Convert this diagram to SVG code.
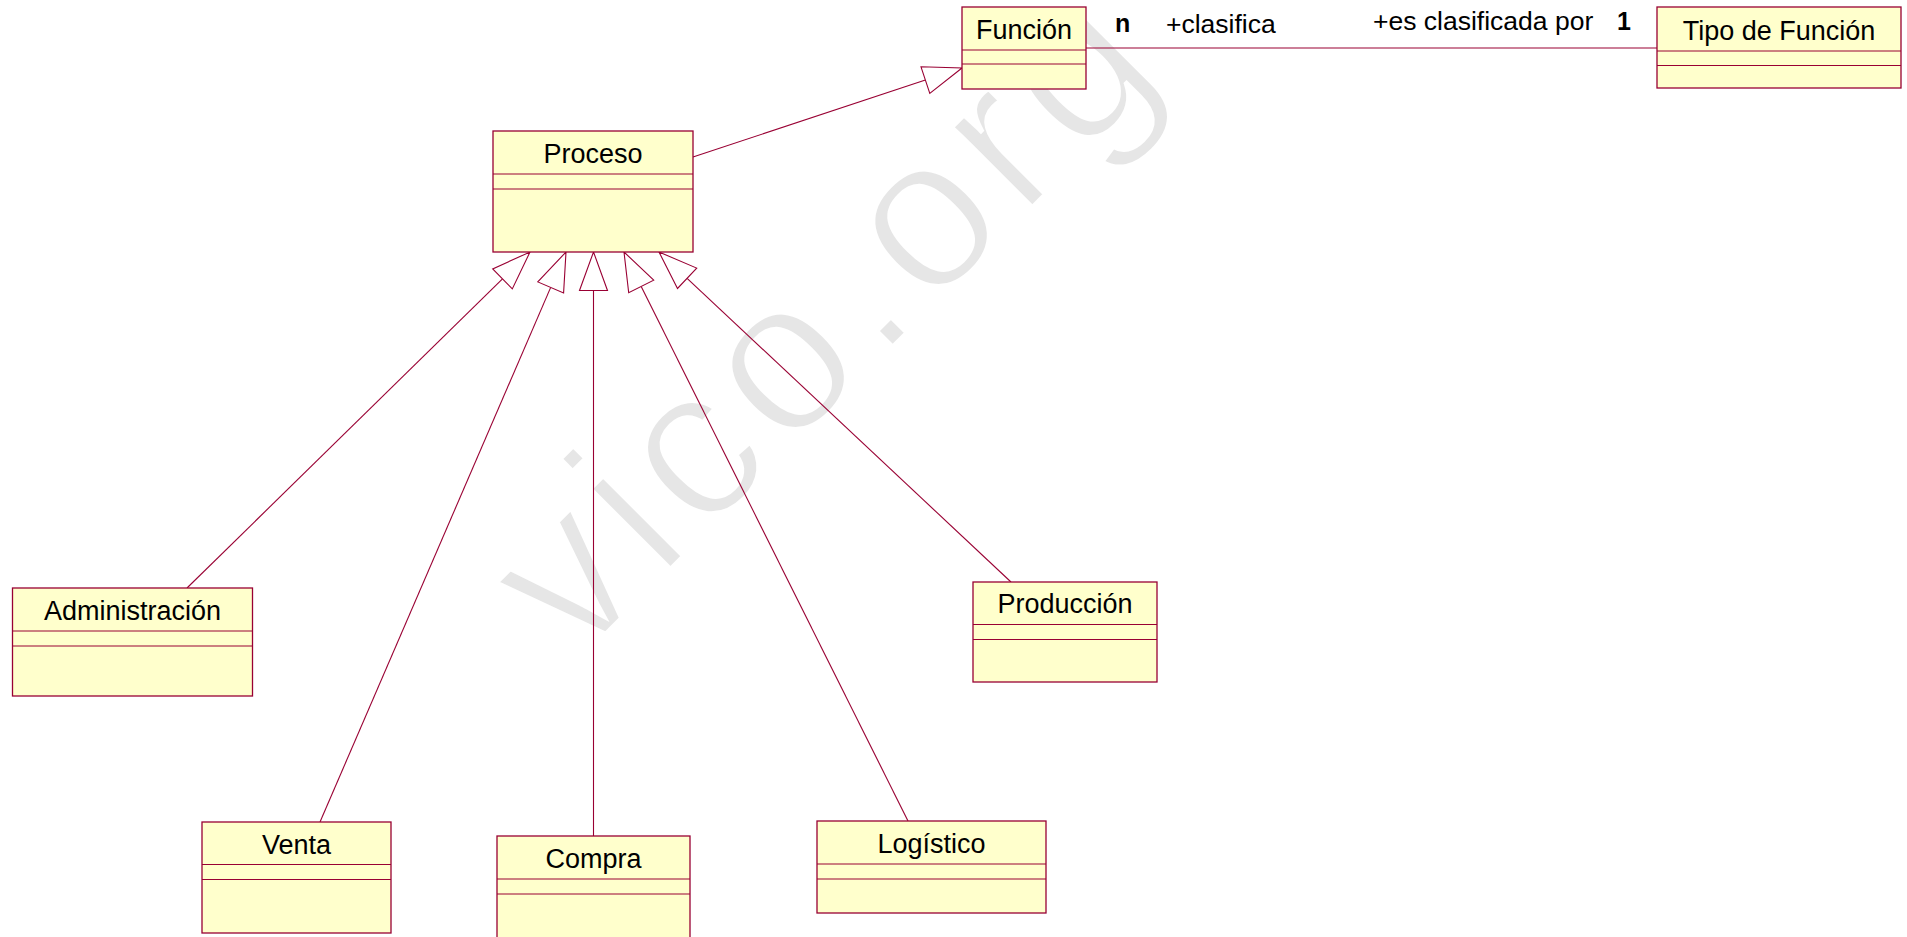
<svg xmlns="http://www.w3.org/2000/svg" width="1907" height="937" viewBox="0 0 1907 937">
<style>
.box{fill:#FFFFCC;stroke:#990033;stroke-width:1.3}
.div{stroke:#990033;stroke-width:1;fill:none}
.t{font-family:"Liberation Sans",Arial,sans-serif;font-size:27px;fill:#000;text-anchor:middle}
.lbl{font-family:"Liberation Sans",Arial,sans-serif;font-size:26.5px;fill:#000}
.mul{font-family:"Liberation Sans",Arial,sans-serif;font-size:25px;font-weight:bold;fill:#000}
.ln{stroke:#990033;stroke-width:1.1;fill:none}
.hd{fill:#fff;stroke:#990033;stroke-width:1.1}
.wm{font-family:"Liberation Sans",Arial,sans-serif;font-size:216px;letter-spacing:11px;fill:#e6e6e6;stroke:#fff;stroke-width:5}
</style>
<rect width="1907" height="937" fill="#fff"/>
<text class="wm" transform="translate(576,664) rotate(-45)">vico.org</text>

<g id="connectors">
  <line class="ln" x1="693" y1="157" x2="925.4" y2="80.1"/>
  <polygon class="hd" points="962,68 929.8,93.4 921,66.8"/>
  <line class="ln" x1="1086" y1="48" x2="1657" y2="48"/>
  <line class="ln" x1="187" y1="588" x2="502.5" y2="278.9"/>
  <polygon class="hd" points="530,252 512.3,288.9 492.7,268.9"/>
  <line class="ln" x1="320" y1="822" x2="550.7" y2="287.4"/>
  <polygon class="hd" points="566,252 563.6,292.9 537.8,281.9"/>
  <line class="ln" x1="593.5" y1="836" x2="593.5" y2="290.5"/>
  <polygon class="hd" points="593.5,252 607.5,290.5 579.5,290.5"/>
  <line class="ln" x1="908" y1="821" x2="641.2" y2="286.4"/>
  <polygon class="hd" points="624,252 653.7,280.2 628.7,292.7"/>
  <line class="ln" x1="1011" y1="582" x2="687.1" y2="278.3"/>
  <polygon class="hd" points="659,252 696.7,268.1 677.5,288.5"/>
  <text class="mul" x="1115" y="32">n</text>
  <text class="lbl" x="1166" y="33">+clasifica</text>
  <text class="lbl" x="1373" y="30" font-size="27">+es clasificada por</text>
  <text class="mul" x="1617" y="30">1</text>
</g>

<g id="funcion">
  <rect class="box" x="962" y="7" width="124" height="82"/>
  <line class="div" x1="962" y1="50" x2="1086" y2="50"/>
  <line class="div" x1="962" y1="64" x2="1086" y2="64"/>
  <text class="t" x="1024" y="39">Función</text>
</g>
<g id="tipo-de-funcion">
  <rect class="box" x="1657" y="7" width="244" height="81"/>
  <line class="div" x1="1657" y1="51" x2="1901" y2="51"/>
  <line class="div" x1="1657" y1="65.5" x2="1901" y2="65.5"/>
  <text class="t" x="1779" y="40">Tipo de Función</text>
</g>
<g id="proceso">
  <rect class="box" x="493" y="131" width="200" height="121"/>
  <line class="div" x1="493" y1="174" x2="693" y2="174"/>
  <line class="div" x1="493" y1="189" x2="693" y2="189"/>
  <text class="t" x="593" y="163">Proceso</text>
</g>
<g id="administracion">
  <rect class="box" x="12.5" y="588" width="240" height="108"/>
  <line class="div" x1="12.5" y1="631" x2="252.5" y2="631"/>
  <line class="div" x1="12.5" y1="646" x2="252.5" y2="646"/>
  <text class="t" x="132.5" y="620">Administración</text>
</g>
<g id="venta">
  <rect class="box" x="202" y="822" width="189" height="111"/>
  <line class="div" x1="202" y1="864.5" x2="391" y2="864.5"/>
  <line class="div" x1="202" y1="879.5" x2="391" y2="879.5"/>
  <text class="t" x="296.5" y="854">Venta</text>
</g>
<g id="compra">
  <rect class="box" x="497" y="836" width="193" height="110"/>
  <line class="div" x1="497" y1="879" x2="690" y2="879"/>
  <line class="div" x1="497" y1="894" x2="690" y2="894"/>
  <text class="t" x="593.5" y="868">Compra</text>
</g>
<g id="logistico">
  <rect class="box" x="817" y="821" width="229" height="92"/>
  <line class="div" x1="817" y1="864" x2="1046" y2="864"/>
  <line class="div" x1="817" y1="879" x2="1046" y2="879"/>
  <text class="t" x="931.5" y="853">Logístico</text>
</g>
<g id="produccion">
  <rect class="box" x="973" y="582" width="184" height="100"/>
  <line class="div" x1="973" y1="624.5" x2="1157" y2="624.5"/>
  <line class="div" x1="973" y1="639.5" x2="1157" y2="639.5"/>
  <text class="t" x="1065" y="613">Producción</text>
</g>
</svg>
